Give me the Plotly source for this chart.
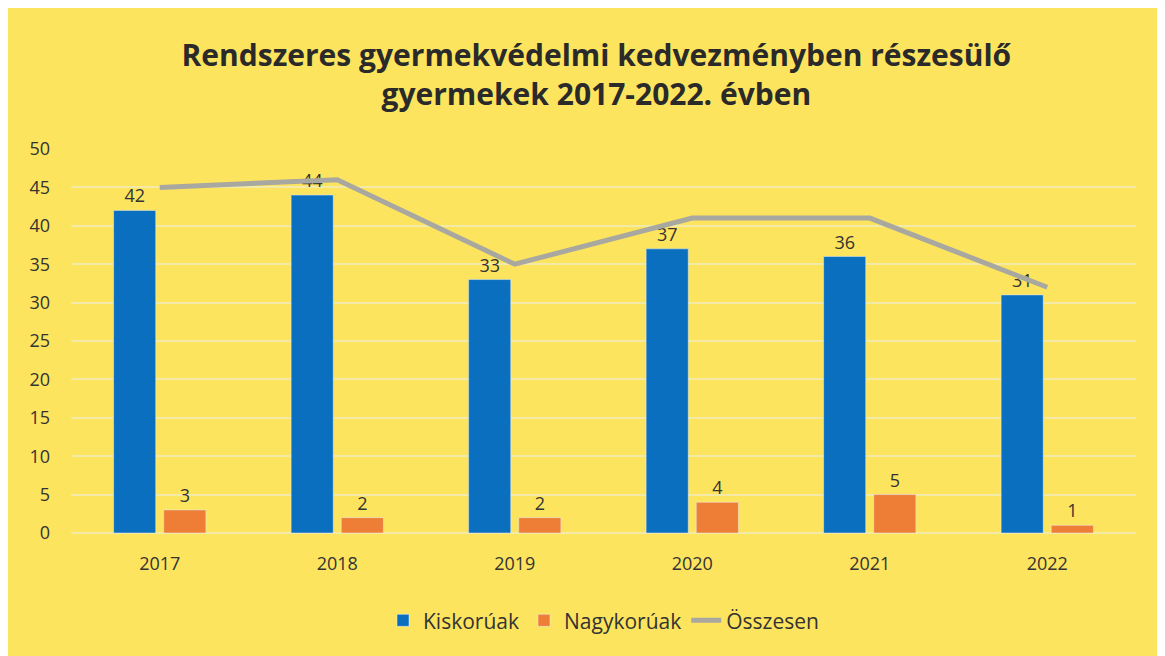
import plotly.graph_objects as go

years = ["2017", "2018", "2019", "2020", "2021", "2022"]
kiskoruak = [42, 44, 33, 37, 36, 31]
nagykoruak = [3, 2, 2, 4, 5, 1]
osszesen = [45, 46, 35, 41, 41, 32]
y_ticks = [0, 5, 10, 15, 20, 25, 30, 35, 40, 45, 50]

font_family = "Open Sans, Lato, sans-serif"
text_color = "#333333"

fig = go.Figure()
fig.add_trace(go.Bar(
    x=years, y=kiskoruak, name="Kiskorúak",
    marker=dict(color="#0B6FC0"),
    text=kiskoruak, textposition="outside",
    textfont=dict(size=18, color=text_color, family=font_family),
    cliponaxis=False,
))
fig.add_trace(go.Bar(
    x=years, y=nagykoruak, name="Nagykorúak",
    marker=dict(color="#EE7D36"),
    text=nagykoruak, textposition="outside",
    textfont=dict(size=18, color=text_color, family=font_family),
    cliponaxis=False,
))
fig.add_trace(go.Scatter(
    x=years, y=osszesen, name="Összesen", mode="lines",
    line=dict(color="#A8A8A0", width=5),
))

fig.update_layout(
    width=1165, height=656,
    paper_bgcolor="#FDE45E",
    plot_bgcolor="#FDE45E",
    title=dict(
        text="<b>Rendszeres gyermekvédelmi kedvezményben részesülő<br>gyermekek 2017-2022. évben</b>",
        x=0.505, xanchor="center", y=0.912, yanchor="top",
        font=dict(size=30, color="#2a2a2a", family=font_family),
    ),
    barmode="group", bargap=0.435, bargroupgap=0.16,
    margin=dict(l=63, r=37, t=141, b=131),
    font=dict(family=font_family, size=18, color=text_color),
    legend=dict(
        orientation="h", x=0.5, xanchor="center", y=-0.175, yanchor="top",
        font=dict(size=21, color=text_color), bgcolor="rgba(0,0,0,0)",
    ),
    yaxis=dict(
        range=[0, 50], tickvals=y_ticks, showgrid=True,
        gridcolor="#F3EAA8", gridwidth=2, zeroline=True,
        zerolinecolor="#F3EAA8", zerolinewidth=2,
        tickfont=dict(size=18, color=text_color), ticks="", ticklen=0,
        ticklabelstandoff=20,
    ),
    xaxis=dict(
        showgrid=False, showline=False, ticks="",
        tickfont=dict(size=18, color=text_color),
        ticklabelstandoff=18,
    ),
)

fig.write_html("out.html")
